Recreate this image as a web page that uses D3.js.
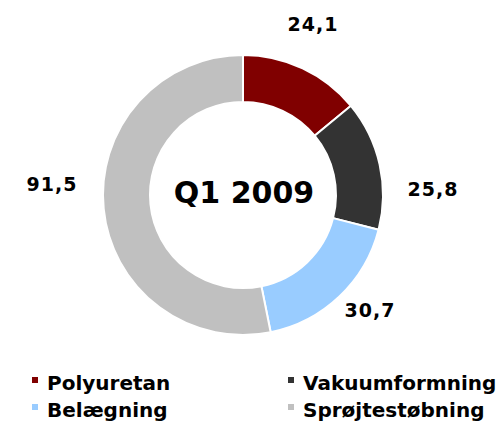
<!DOCTYPE html>
<html><head><meta charset="utf-8">
<script src="https://cdn.jsdelivr.net/npm/d3@7"></script>
<style>body{margin:0;background:#fff}svg{display:block}text{font-family:"DejaVu Sans",Verdana,sans-serif;font-weight:bold}</style>
</head><body><svg id="c" width="502" height="426"></svg>
<script>
const categories = ["Polyuretan","Vakuumformning","Belægning","Sprøjtestøbning"];
const values = [24.1, 25.8, 30.7, 91.5];
const valueLabels = ["24,1","25,8","30,7","91,5"];
const colors = ["#800000","#333333","#99CCFF","#C0C0C0"];
const centerTitle = "Q1 2009";

const svg = d3.select("#c");
const cx = 243, cy = 195, R = 140, r = 93;
const g = svg.append("g").attr("transform", `translate(${cx},${cy})`);
const pie = d3.pie().sort(null).value(d => d)(values);
const arc = d3.arc().innerRadius(r).outerRadius(R);
g.selectAll("path").data(pie).join("path")
  .attr("d", arc).attr("fill", (d,i) => colors[i])
  .attr("stroke", "#fff").attr("stroke-width", 2);

const labelPos = [[313,31],[433,196],[370,317],[52,191]];
svg.selectAll("text.val").data(valueLabels).join("text")
  .attr("class","val")
  .attr("x",(d,i)=>labelPos[i][0]).attr("y",(d,i)=>labelPos[i][1])
  .attr("text-anchor","middle").attr("font-size",19).attr("letter-spacing",1).attr("fill","#000")
  .text(d=>d);

svg.append("text").attr("x",244).attr("y",203).attr("text-anchor","middle")
  .attr("font-size",30).attr("fill","#000").text(centerTitle);

const legPos = [[32,390],[288,390],[32,417],[288,417]];
const lg = svg.selectAll("g.leg").data(categories).join("g").attr("class","leg")
  .attr("transform",(d,i)=>`translate(${legPos[i][0]},${legPos[i][1]})`);
lg.append("rect").attr("x",0).attr("y",-13).attr("width",6).attr("height",6)
  .attr("fill",(d,i)=>colors[i]);
lg.append("text").attr("x",15).attr("y",0).attr("font-size",20).attr("fill","#000").text(d=>d);
</script></body></html>
